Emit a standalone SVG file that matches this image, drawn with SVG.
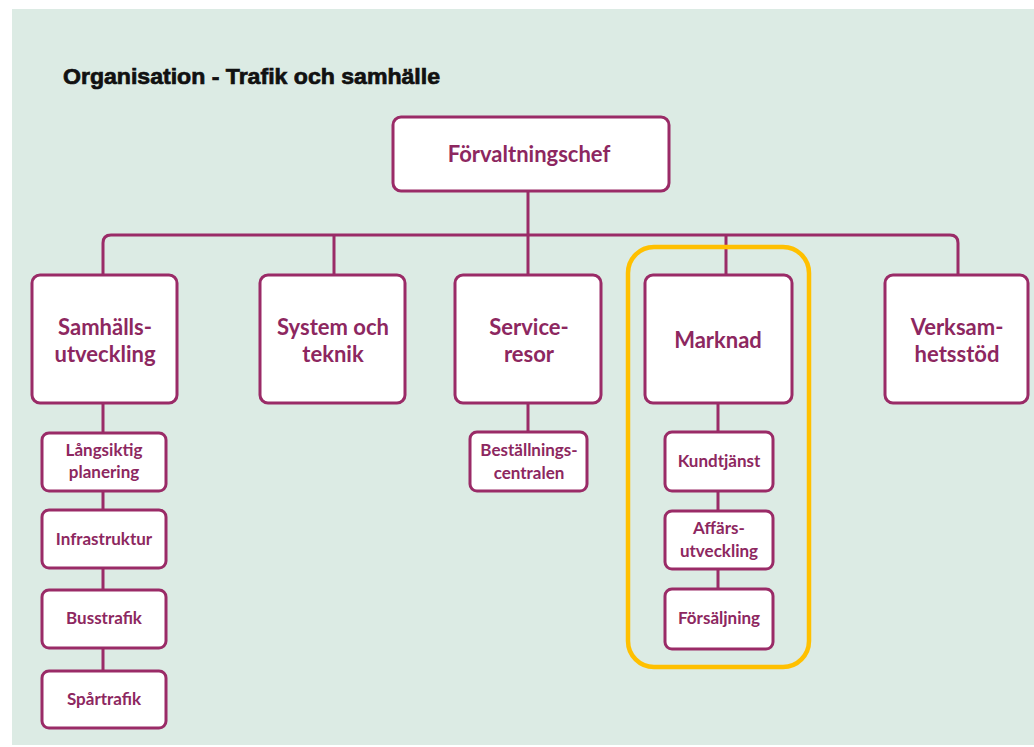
<svg xmlns="http://www.w3.org/2000/svg" width="1034" height="747" viewBox="0 0 1034 747">
<style>
.box{fill:#ffffff;stroke:#9a2b67;stroke-width:3}
.ln{fill:none;stroke:#9a2b67;stroke-width:3}
.t1{font-family:Lato,"Open Sans",sans-serif;font-weight:bold;font-size:22px;fill:#8d2760;text-anchor:middle}
.t2{font-family:Lato,"Open Sans",sans-serif;font-weight:bold;font-size:17px;fill:#8d2760;text-anchor:middle}
</style>
<rect x="0" y="0" width="1034" height="747" fill="#ffffff"/>
<rect x="12" y="9" width="1022" height="736" fill="#dcebe4"/>
<text x="63" y="84" font-family="'Liberation Sans',Arial,sans-serif" font-weight="bold" font-size="22" fill="#111" stroke="#111" stroke-width="0.7" textLength="377" lengthAdjust="spacingAndGlyphs">Organisation - Trafik och samhälle</text>
<g id="connectors">
<path class="ln" d="M528 190V235"/>
<path class="ln" d="M103 275V243Q103 235 111 235H950Q958 235 958 243V275"/>
<path class="ln" d="M334 235V275"/>
<path class="ln" d="M528 235V275"/>
<path class="ln" d="M726 235V275"/>
<path class="ln" d="M103 403V671"/>
<path class="ln" d="M528 403V432"/>
<path class="ln" d="M718 403V589"/>
</g>
<g id="highlight"><rect x="628" y="247" width="181" height="420" rx="26" fill="none" stroke="#ffc000" stroke-width="4.5"/></g>
<g id="n-chef"><rect class="box" x="393" y="117" width="276" height="74" rx="8"/><text class="t1" x="529" y="162">Förvaltningschef</text></g>
<g id="n-samh"><rect class="box" x="32" y="275" width="145" height="128" rx="8"/><text class="t1" x="105" y="335">Samhälls-</text><text class="t1" x="105" y="362">utveckling</text></g>
<g id="n-system"><rect class="box" x="260" y="275" width="145" height="128" rx="8"/><text class="t1" x="333" y="335">System och</text><text class="t1" x="333" y="362">teknik</text></g>
<g id="n-service"><rect class="box" x="455" y="275" width="146" height="128" rx="8"/><text class="t1" x="529" y="335">Service-</text><text class="t1" x="529" y="362">resor</text></g>
<g id="n-marknad"><rect class="box" x="645" y="275" width="147" height="128" rx="8"/><text class="t1" x="718" y="348">Marknad</text></g>
<g id="n-verks"><rect class="box" x="885" y="275" width="143" height="128" rx="8"/><text class="t1" x="957" y="335">Verksam-</text><text class="t1" x="957" y="362">hetsstöd</text></g>
<g id="n-lang"><rect class="box" x="42" y="433" width="124" height="58" rx="7"/><text class="t2" x="104" y="456">Långsiktig</text><text class="t2" x="104" y="478">planering</text></g>
<g id="n-infra"><rect class="box" x="42" y="510" width="124" height="58" rx="7"/><text class="t2" x="104" y="545">Infrastruktur</text></g>
<g id="n-buss"><rect class="box" x="42" y="590" width="124" height="58" rx="7"/><text class="t2" x="104" y="624">Busstrafik</text></g>
<g id="n-spar"><rect class="box" x="42" y="671" width="124" height="57" rx="7"/><text class="t2" x="104" y="705">Spårtrafik</text></g>
<g id="n-best"><rect class="box" x="470" y="432" width="117" height="59" rx="7"/><text class="t2" x="529" y="456">Beställnings-</text><text class="t2" x="529" y="479">centralen</text></g>
<g id="n-kund"><rect class="box" x="665" y="432" width="108" height="59" rx="7"/><text class="t2" x="719" y="467">Kundtjänst</text></g>
<g id="n-aff"><rect class="box" x="665" y="511" width="108" height="58" rx="7"/><text class="t2" x="719" y="534">Affärs-</text><text class="t2" x="719" y="557">utveckling</text></g>
<g id="n-fors"><rect class="box" x="665" y="589" width="108" height="60" rx="7"/><text class="t2" x="719" y="624">Försäljning</text></g>
</svg>
